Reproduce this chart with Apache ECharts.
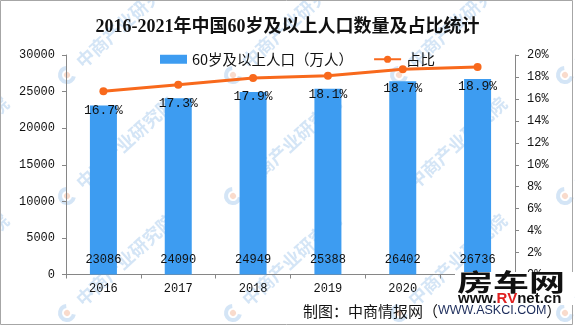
<!DOCTYPE html>
<html><head><meta charset="utf-8">
<script src="https://cdn.jsdelivr.net/npm/echarts@6/dist/echarts.min.js"></script>
<style>html,body{margin:0;padding:0;background:#fff}#c{width:575px;height:327px}</style>
</head><body><div id="c"></div>
<script>
const categories = ['2016','2017','2018','2019','2020','2021'];
const population = [23086,24090,24949,25388,26402,26736];
const share = [16.7,17.3,17.9,18.1,18.7,18.9];
const title = '2016-2021年中国60岁及以上人口数量及占比统计';
const barName = '60岁及以上人口（万人）';
const lineName = '占比';
const watermarkText = '中商产业研究院';

const mono = '"Liberation Mono","Noto Sans CJK SC",monospace';
const cjk = '"Noto Sans CJK SC",sans-serif';
const sans = '"Liberation Sans",Arial,sans-serif';

const wm = [];
[-99,67,233,399,565].forEach(x=>{
  [-45,75,196,313].forEach(y=>{
    wm.push({type:'group',x:x,y:y,rotation:0.74,silent:true,z:100,children:[
      {type:'arc',shape:{cx:0,cy:0,r:7,startAngle:Math.PI*0.3,endAngle:Math.PI*1.7},style:{fill:'none',stroke:'#a9cbee',lineWidth:4,opacity:0.5}},
      {type:'arc',shape:{cx:0,cy:0,r:3,startAngle:0,endAngle:Math.PI*2},style:{fill:'#f3b89a',stroke:'none',opacity:0.5}},
      {type:'text',x:16,y:0,style:{text:watermarkText,fontFamily:cjk,fontWeight:'bold',fontSize:18,fill:'#a9cbee',opacity:0.5,textVerticalAlign:'middle'}}
    ]});
  });
});

const chart = echarts.init(document.getElementById('c'));
chart.setOption({
  animation:false,
  backgroundColor:'#fff',
  title:{text:title,left:'center',top:13,textStyle:{fontFamily:'"Liberation Serif","Noto Sans CJK SC",serif',fontWeight:'bold',fontSize:18,color:'#111'}},
  legend:{left:155,top:47,itemGap:20,itemWidth:27,itemHeight:9,
    textStyle:{fontFamily:cjk,fontSize:14.5,color:'#111'},
    data:[{name:barName,icon:'rect'},{name:lineName}]},
  grid:{left:66,right:60,top:55,bottom:52.5},
  xAxis:{type:'category',data:categories,
    axisLine:{lineStyle:{color:'#868686'}},
    axisTick:{show:true,length:4,lineStyle:{color:'#868686'}},
    axisLabel:{fontFamily:mono,fontSize:12,color:'#111',margin:8}},
  yAxis:[
    {type:'value',min:0,max:30000,interval:5000,
     axisLine:{show:true,lineStyle:{color:'#868686'}},
     axisTick:{show:true,length:4,lineStyle:{color:'#868686'}},
     splitLine:{show:false},
     axisLabel:{fontFamily:mono,fontSize:12,color:'#111',margin:11,formatter:v=>String(v)}},
    {type:'value',min:0,max:20,interval:2,position:'right',
     axisLine:{show:true,lineStyle:{color:'#868686'}},
     axisTick:{show:true,length:4,lineStyle:{color:'#868686'}},
     splitLine:{show:false},
     axisLabel:{fontFamily:mono,fontSize:12,color:'#111',margin:12,formatter:'{value}%'}}
  ],
  series:[
    {name:barName,type:'bar',data:population,barWidth:27,z:3,
     itemStyle:{color:'#3d9cf1'},
     label:{show:true,position:'insideBottom',distance:8.5,fontFamily:mono,fontSize:12,color:'#111'}},
    {name:lineName,type:'line',yAxisIndex:1,data:share,z:4,
     symbol:'circle',symbolSize:8,
     lineStyle:{color:'#f8691c',width:3},itemStyle:{color:'#f8691c'},
     labelLayout:{hideOverlap:false,moveOverlap:false},
     label:{show:true,position:['50%',23],align:'center',verticalAlign:'middle',fontFamily:mono,fontSize:13,color:'#111',formatter:p=>p.value+'%'}}
  ],
  graphic:wm.concat([
    {type:'rect',shape:{x:0.5,y:0.5,width:572,height:324},style:{fill:'none',stroke:'#a6a6a6',lineWidth:1},silent:true,z:50},
    {type:'text',x:303,y:311,z:50,style:{rich:{a:{fontFamily:cjk,fontSize:15,fill:'#111'},b:{fontFamily:sans,fontSize:12.5,fill:'#1d2d5c'}},text:'{a|制图：中商情报网（}{b|WWW.ASKCI.COM}{a|）}',textVerticalAlign:'middle'}},
    {type:'rect',shape:{x:455,y:272,width:118,height:33},style:{fill:'#fff'},silent:true,z:60},
    {type:'text',x:457,y:270,scaleX:1.5,z:61,style:{text:'房车网',fontFamily:cjk,fontWeight:'bold',fontSize:24,fill:'#111',textVerticalAlign:'top'}},
    {type:'text',x:458,y:299,z:61,style:{rich:{a:{fontFamily:sans,fontWeight:'bold',fontSize:15,fill:'#111'},r:{fontFamily:sans,fontWeight:'bold',fontSize:15,fill:'#e02020'}},text:'{a|www.}{r|RV}{a|net.cn}',textVerticalAlign:'middle'}}
  ])
});
</script></body></html>
